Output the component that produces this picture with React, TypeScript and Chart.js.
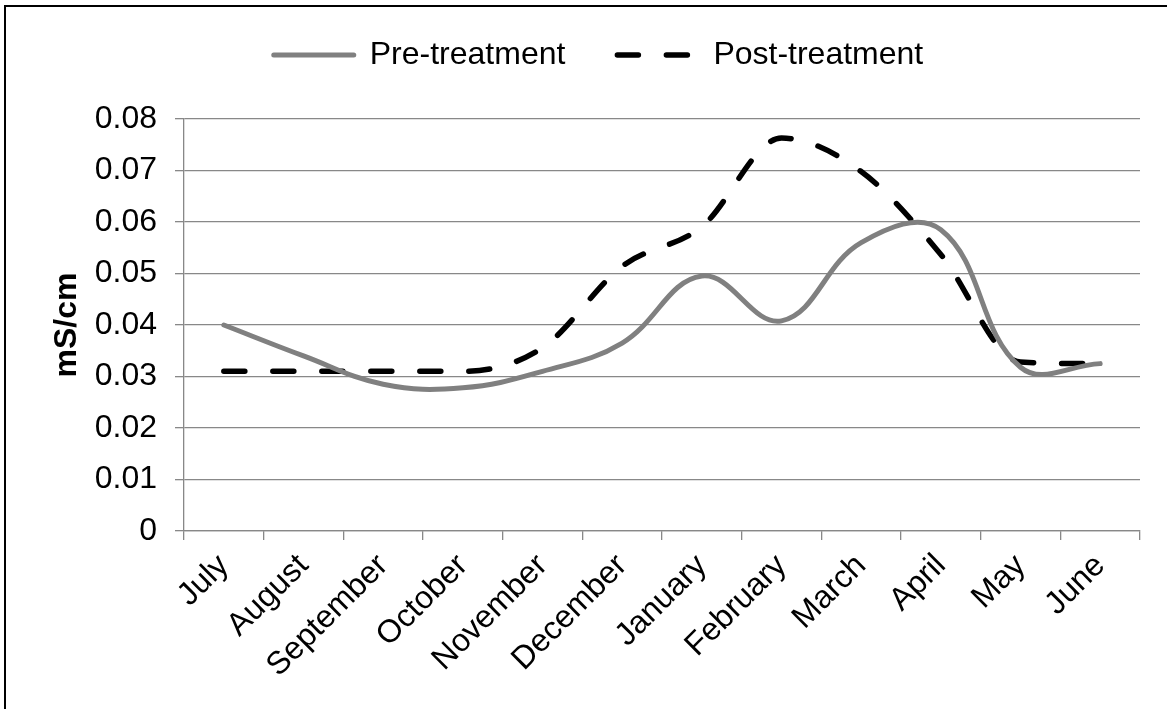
import React, { useEffect, useRef } from "react";
import { Chart, registerables } from "chart.js";

Chart.register(...registerables);

const categories = [
  "July", "August", "September", "October", "November", "December",
  "January", "February", "March", "April", "May", "June",
];
const preTreatment = [0.040, 0.034, 0.0285, 0.0278, 0.031, 0.0365, 0.0495, 0.0408, 0.056, 0.0585, 0.0318, 0.0325];
const postTreatment = [0.031, 0.031, 0.031, 0.031, 0.0356, 0.0514, 0.0591, 0.0763, 0.0698, 0.0537, 0.0328, 0.0325];
const yTickLabels = ["0", "0.01", "0.02", "0.03", "0.04", "0.05", "0.06", "0.07", "0.08"];

const FONT = "'Liberation Sans', Arial, sans-serif";

export default function App() {
  const ref = useRef<HTMLCanvasElement | null>(null);

  useEffect(() => {
    if (!ref.current) return;
    const chart = new Chart(ref.current, {
      type: "line",
      data: {
        labels: categories,
        datasets: [
          {
            label: "Pre-treatment",
            data: preTreatment,
            xAxisID: "x",
            yAxisID: "y",
            borderColor: "#808080",
            backgroundColor: "#808080",
            borderWidth: 5,
            borderCapStyle: "round",
            tension: 0.4,
            pointRadius: 0,
            fill: false,
          },
          {
            label: "Post-treatment",
            data: postTreatment,
            xAxisID: "x",
            yAxisID: "y",
            borderColor: "#000000",
            backgroundColor: "#000000",
            borderWidth: 5.5,
            borderDash: [21, 28],
            borderCapStyle: "round",
            cubicInterpolationMode: "monotone",
            tension: 0.4,
            pointRadius: 0,
            fill: false,
          },
        ],
      },
      options: {
        responsive: false,
        animation: false,
        devicePixelRatio: 1,
        layout: { padding: { top: -13, left: 57, right: 27, bottom: 0 } },
        plugins: {
          tooltip: { enabled: false },
          legend: {
            display: true,
            position: "top",
            labels: {
              usePointStyle: true,
              pointStyle: "line",
              pointStyleWidth: 80,
              padding: 52,
              color: "#000",
              font: { family: FONT, size: 32 },
              generateLabels: (c: any) => {
                const items = Chart.defaults.plugins.legend.labels.generateLabels(c);
                return items.map((it: any) => {
                  const ds: any = c.data.datasets[it.datasetIndex];
                  return {
                    ...it,
                    lineDash: ds.borderDash || [],
                    lineCap: "round",
                    lineWidth: ds.borderWidth,
                    strokeStyle: ds.borderColor,
                    fillStyle: ds.borderColor,
                    pointStyle: "line",
                  };
                });
              },
            },
          },
        },
        scales: {
          x: {
            type: "category",
            position: "bottom",
            offset: true,
            grid: {
              display: true,
              drawOnChartArea: false,
              drawTicks: true,
              tickLength: 9,
              color: "#888888",
              lineWidth: 1.3,
              offset: true,
            },
            border: { display: true, color: "#888888", width: 1.3 },
            ticks: {
              color: "#000",
              font: { family: FONT, size: 32 },
              minRotation: 45,
              maxRotation: 45,
              autoSkip: false,
              padding: 7,
            },
            afterFit: (s: any) => {
              s.height = 178;
            },
          },
          xTop: {
            type: "category",
            position: "top",
            offset: true,
            display: true,
            grid: { display: false, drawTicks: false },
            border: { display: false },
            ticks: { display: false },
            afterFit: (s: any) => {
              s.height = 38;
            },
          },
          y: {
            type: "linear",
            position: "left",
            min: 0,
            max: 0.08,
            grid: { color: "#888888", lineWidth: 1.3, tickLength: 9, drawTicks: true },
            border: { display: true, color: "#888888", width: 1.3 },
            ticks: {
              stepSize: 0.01,
              color: "#000",
              padding: 18,
              font: { family: FONT, size: 32 },
              callback: (_v: any, i: number) => yTickLabels[i],
            },
            title: {
              display: true,
              text: "mS/cm",
              color: "#000",
              font: { family: FONT, size: 32, weight: "bold" },
              padding: { top: -9, bottom: 0 },
            },
            afterFit: (s: any) => {
              s.width = 127;
            },
          },
        },
      },
    });
    return () => chart.destroy();
  }, []);

  return (
    <div>
      <canvas
        ref={ref}
        width={1167}
        height={709}
        style={{ position: "fixed", left: 0, top: 0, width: 1167, height: 709, background: "#fff" }}
      />
      <div
        style={{
          position: "fixed",
          left: 4,
          top: 5,
          width: 2000,
          height: 2000,
          borderLeft: "2px solid #000",
          borderTop: "2px solid #000",
          pointerEvents: "none",
        }}
      />
    </div>
  );
}
